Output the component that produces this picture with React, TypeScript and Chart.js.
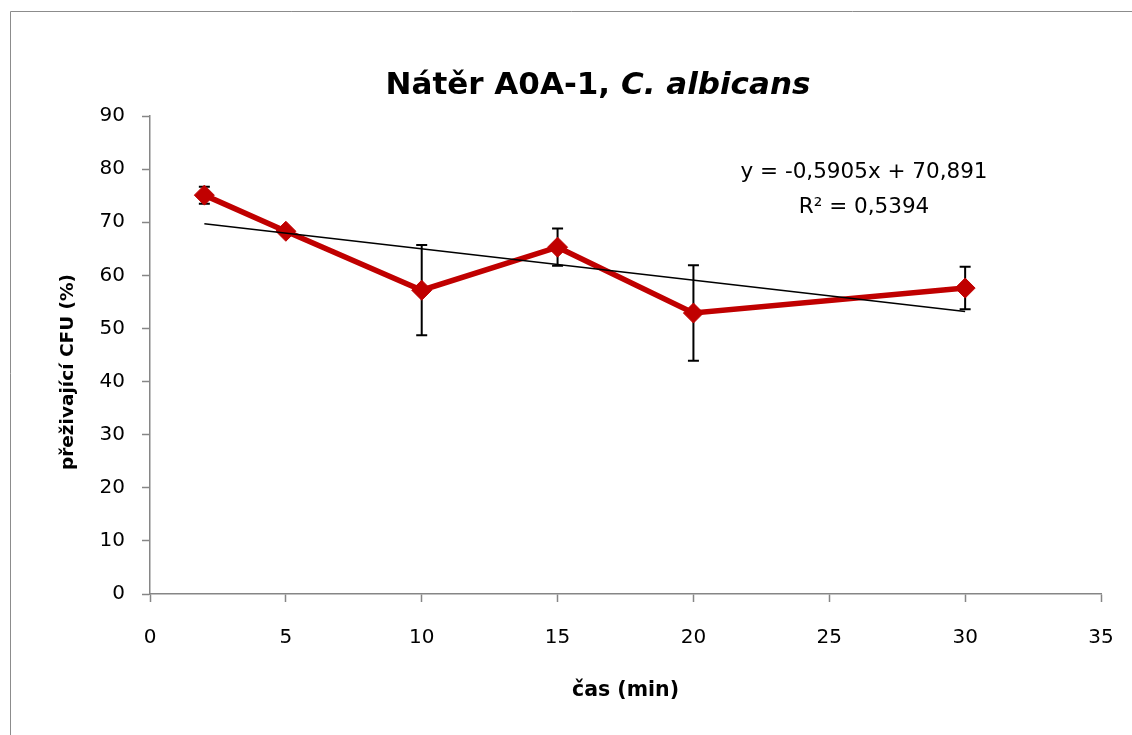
import React, { useEffect, useRef } from "react";
import { Chart, registerables } from "chart.js";

Chart.register(...registerables);

const times = [2, 5, 10, 15, 20, 30];
const survival = [75.1, 68.3, 57.2, 65.3, 52.9, 57.6];
const errors = [1.6, 0.5, 8.5, 3.5, 9.0, 4.0];
const trendSlope = -0.5905;
const trendIntercept = 70.891;
const trendX = [2, 30];
const titleMain = "Nátěr A0A-1, ";
const titleItalic = "C. albicans";
const eqLine1 = "y = -0,5905x + 70,891";
const eqLine2 = "R² = 0,5394";
const xTitle = "čas (min)";
const yTitle = "přeživající CFU (%)";

const FONT = "'DejaVu Sans', sans-serif";

const errorBarPlugin = {
  id: "errorBars",
  beforeDatasetsDraw(chart: any) {
    const { ctx, scales } = chart;
    const xs = scales.x;
    const ys = scales.y;
    ctx.save();
    ctx.strokeStyle = "#000";
    ctx.lineWidth = 2;
    times.forEach((t, i) => {
      const px = xs.getPixelForValue(t);
      const top = ys.getPixelForValue(survival[i] + errors[i]);
      const bot = ys.getPixelForValue(survival[i] - errors[i]);
      ctx.beginPath();
      ctx.moveTo(px, top);
      ctx.lineTo(px, bot);
      ctx.moveTo(px - 5.5, top);
      ctx.lineTo(px + 5.5, top);
      ctx.moveTo(px - 5.5, bot);
      ctx.lineTo(px + 5.5, bot);
      ctx.stroke();
    });
    ctx.restore();
  },
};

const frameAndTextPlugin = {
  id: "texts",
  beforeDraw(chart: any) {
    const { ctx } = chart;
    ctx.save();
    ctx.fillStyle = "#fff";
    ctx.fillRect(0, 0, chart.width, chart.height);
    ctx.strokeStyle = "#8c8c8c";
    ctx.lineWidth = 1;
    ctx.beginPath();
    ctx.moveTo(10.5, chart.height + 2);
    ctx.lineTo(10.5, 11.5);
    ctx.lineTo(chart.width + 2, 11.5);
    ctx.stroke();
    ctx.restore();
  },
  afterDraw(chart: any) {
    const { ctx } = chart;
    ctx.save();
    ctx.fillStyle = "#000";
    ctx.textBaseline = "alphabetic";
    const f1 = `bold 31px ${FONT}`;
    const f2 = `italic bold 31px ${FONT}`;
    ctx.font = f1;
    const w1 = ctx.measureText(titleMain).width;
    ctx.font = f2;
    const w2 = ctx.measureText(titleItalic).width;
    const cx = 598;
    const start = cx - (w1 + w2) / 2;
    ctx.textAlign = "left";
    ctx.font = f1;
    ctx.fillText(titleMain, start, 94);
    ctx.font = f2;
    ctx.fillText(titleItalic, start + w1, 94);

    ctx.font = `21.5px ${FONT}`;
    ctx.textAlign = "center";
    ctx.fillText(eqLine1, 864, 178);
    ctx.fillText(eqLine2, 864, 213);

    // y-axis title (offset from centre, as in the original)
    ctx.save();
    ctx.translate(68, 372);
    ctx.rotate(-Math.PI / 2);
    ctx.font = `bold 18.5px ${FONT}`;
    ctx.textAlign = "center";
    ctx.textBaseline = "middle";
    ctx.fillText(yTitle, 0, 0);
    ctx.restore();
    ctx.restore();
  },
};

export default function App() {
  const ref = useRef<HTMLCanvasElement | null>(null);
  useEffect(() => {
    const canvas = ref.current!;
    const chart = new Chart(canvas, {
      type: "scatter",
      data: {
        datasets: [
          {
            label: "trend",
            data: trendX.map((t) => ({ x: t, y: trendSlope * t + trendIntercept })),
            showLine: true,
            borderColor: "#000",
            borderWidth: 1.6,
            pointRadius: 0,
            order: 0,
          },
          {
            label: "data",
            data: times.map((t, i) => ({ x: t, y: survival[i] })),
            showLine: true,
            borderColor: "#C00000",
            backgroundColor: "#C00000",
            borderWidth: 5.5,
            pointStyle: "rectRot",
            pointRadius: 10,
            pointHoverRadius: 10,
            pointBorderWidth: 1,
            order: 1,
          },
        ],
      },
      plugins: [errorBarPlugin, frameAndTextPlugin],
      options: {
        animation: false,
        responsive: false,
        devicePixelRatio: 1,
        layout: { padding: { left: 40, right: 31, top: 116, bottom: 20 } },
        plugins: {
          legend: { display: false },
          tooltip: { enabled: false },
          title: { display: false },
        },
        scales: {
          x: {
            type: "linear",
            min: 0,
            max: 35,
            ticks: {
              stepSize: 5,
              color: "#000",
              font: { family: FONT, size: 20 },
              padding: 24,
            },
            grid: {
              drawOnChartArea: false,
              drawTicks: true,
              tickLength: 8,
              tickColor: "#868686",
              tickWidth: 1.5,
            },
            border: { color: "#868686", width: 1.5 },
            title: {
              display: true,
              text: xTitle,
              color: "#000",
              font: { family: FONT, size: 20.5, weight: "bold" },
              padding: { top: 12, bottom: 12 },
            },
            afterFit(scale: any) {
              scale.height = 735 - 20 - 594;
              scale.paddingLeft = 0;
              scale.paddingRight = 0;
            },
          },
          y: {
            type: "linear",
            min: 0,
            max: 90,
            ticks: {
              stepSize: 10,
              color: "#000",
              font: { family: FONT, size: 20 },
              padding: 17,
            },
            grid: {
              drawOnChartArea: false,
              drawTicks: true,
              tickLength: 8,
              tickColor: "#868686",
              tickWidth: 1.5,
            },
            border: { color: "#868686", width: 1.5 },
            title: { display: false },
            afterFit(scale: any) {
              scale.width = 110;
              scale.paddingTop = 0;
              scale.paddingBottom = 0;
            },
          },
        },
      },
    } as any);
    return () => chart.destroy();
  }, []);
  return (
    <div style={{ position: "fixed", left: 0, top: 0, width: 1132, height: 735, background: "#fff" }}>
      <canvas ref={ref} width={1132} height={735} style={{ display: "block", width: 1132, height: 735 }} />
    </div>
  );
}
